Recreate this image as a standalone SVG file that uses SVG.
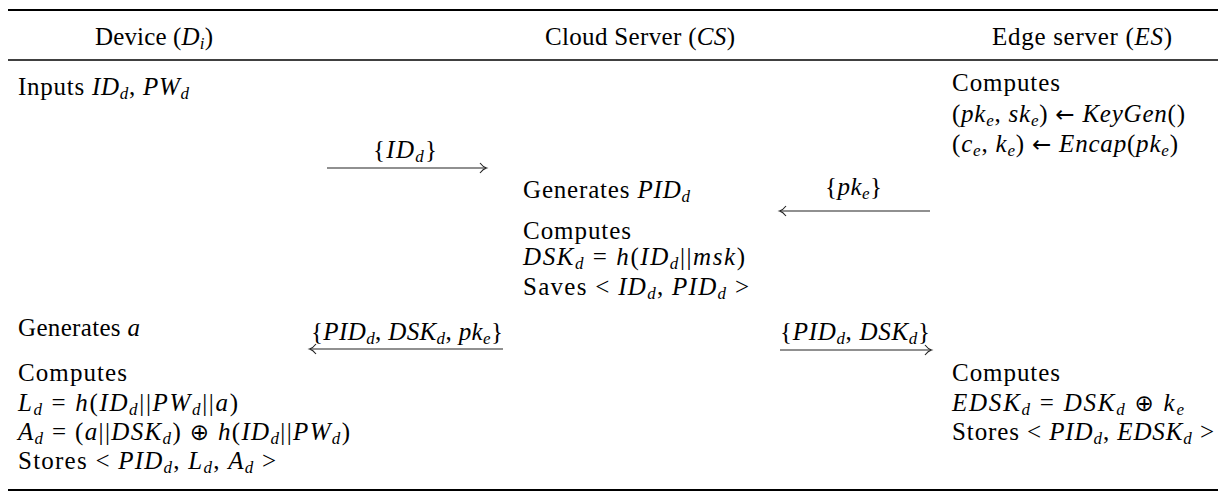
<svg xmlns="http://www.w3.org/2000/svg" width="1228" height="503" viewBox="0 0 1228 503">
<style>
.t{font-family:"Liberation Serif","Times New Roman",serif;font-size:25px;fill:#000}
.i{font-style:italic}
.s{font-size:17px}
.o{font-family:"DejaVu Sans",sans-serif;font-size:23px;font-style:normal}
.arr{stroke:#222;stroke-width:1.1;fill:none}
</style>
<rect width="1228" height="503" fill="#fff"/>
<g id="rules">
<line x1="8" y1="10" x2="1218" y2="10" stroke="#000" stroke-width="2"/>
<line x1="8" y1="60" x2="1218" y2="60" stroke="#000" stroke-width="1.3"/>
<line x1="8" y1="490" x2="1218" y2="490" stroke="#000" stroke-width="2"/>
</g>
<g id="headers">
<text class="t" x="95" y="45" textLength="118" lengthAdjust="spacing">Device (<tspan class="i">D</tspan><tspan class="i s" dy="4">i</tspan><tspan dy="-4">)</tspan></text>
<text class="t" x="545" y="45" textLength="190" lengthAdjust="spacing">Cloud Server (<tspan class="i">CS</tspan>)</text>
<text class="t" x="992" y="45" textLength="180" lengthAdjust="spacing">Edge server (<tspan class="i">ES</tspan>)</text>
</g>
<g id="device">
<text class="t" x="18" y="95" textLength="171" lengthAdjust="spacing">Inputs <tspan class="i">ID</tspan><tspan class="i s" dy="4">d</tspan><tspan dy="-4">, </tspan><tspan class="i">PW</tspan><tspan class="i s" dy="4">d</tspan></text>
<text class="t" x="18" y="336" textLength="122" lengthAdjust="spacing">Generates <tspan class="i">a</tspan></text>
<text class="t" x="18" y="381" textLength="109" lengthAdjust="spacing">Computes</text>
<text class="t" x="18" y="411" textLength="220" lengthAdjust="spacing"><tspan class="i">L</tspan><tspan class="i s" dy="4">d</tspan><tspan dy="-4"> = </tspan><tspan class="i">h</tspan>(<tspan class="i">ID</tspan><tspan class="i s" dy="4">d</tspan><tspan dy="-4">||</tspan><tspan class="i">PW</tspan><tspan class="i s" dy="4">d</tspan><tspan dy="-4">||</tspan><tspan class="i">a</tspan>)</text>
<text class="t" x="18" y="440" textLength="332" lengthAdjust="spacing"><tspan class="i">A</tspan><tspan class="i s" dy="4">d</tspan><tspan dy="-4"> = (</tspan><tspan class="i">a</tspan>||<tspan class="i">DSK</tspan><tspan class="i s" dy="4">d</tspan><tspan dy="-4">) </tspan><tspan class="o">⊕</tspan> <tspan class="i">h</tspan>(<tspan class="i">ID</tspan><tspan class="i s" dy="4">d</tspan><tspan dy="-4">||</tspan><tspan class="i">PW</tspan><tspan class="i s" dy="4">d</tspan><tspan dy="-4">)</tspan></text>
<text class="t" x="18" y="469" textLength="258" lengthAdjust="spacing">Stores &lt; <tspan class="i">PID</tspan><tspan class="i s" dy="4">d</tspan><tspan dy="-4">, </tspan><tspan class="i">L</tspan><tspan class="i s" dy="4">d</tspan><tspan dy="-4">, </tspan><tspan class="i">A</tspan><tspan class="i s" dy="4">d</tspan><tspan dy="-4"> &gt;</tspan></text>
</g>
<g id="cloud-server">
<text class="t" x="523" y="198" textLength="167" lengthAdjust="spacing">Generates <tspan class="i">PID</tspan><tspan class="i s" dy="4">d</tspan></text>
<text class="t" x="523" y="239" textLength="108" lengthAdjust="spacing">Computes</text>
<text class="t" x="523" y="265" textLength="222" lengthAdjust="spacing"><tspan class="i">DSK</tspan><tspan class="i s" dy="4">d</tspan><tspan dy="-4"> = </tspan><tspan class="i">h</tspan>(<tspan class="i">ID</tspan><tspan class="i s" dy="4">d</tspan><tspan dy="-4">||</tspan><tspan class="i">msk</tspan>)</text>
<text class="t" x="523" y="295" textLength="226" lengthAdjust="spacing">Saves &lt; <tspan class="i">ID</tspan><tspan class="i s" dy="4">d</tspan><tspan dy="-4">, </tspan><tspan class="i">PID</tspan><tspan class="i s" dy="4">d</tspan><tspan dy="-4"> &gt;</tspan></text>
</g>
<g id="edge-server">
<text class="t" x="952" y="91" textLength="108" lengthAdjust="spacing">Computes</text>
<text class="t" x="952" y="122" textLength="233" lengthAdjust="spacing">(<tspan class="i">pk</tspan><tspan class="i s" dy="4">e</tspan><tspan dy="-4">, </tspan><tspan class="i">sk</tspan><tspan class="i s" dy="4">e</tspan><tspan dy="-4">) </tspan><tspan class="o">←</tspan> <tspan class="i">KeyGen</tspan>()</text>
<text class="t" x="952" y="152" textLength="226" lengthAdjust="spacing">(<tspan class="i">c</tspan><tspan class="i s" dy="4">e</tspan><tspan dy="-4">, </tspan><tspan class="i">k</tspan><tspan class="i s" dy="4">e</tspan><tspan dy="-4">) </tspan><tspan class="o">←</tspan> <tspan class="i">Encap</tspan>(<tspan class="i">pk</tspan><tspan class="i s" dy="4">e</tspan><tspan dy="-4">)</tspan></text>
<text class="t" x="952" y="381" textLength="108" lengthAdjust="spacing">Computes</text>
<text class="t" x="952" y="411" textLength="232" lengthAdjust="spacing"><tspan class="i">EDSK</tspan><tspan class="i s" dy="4">d</tspan><tspan dy="-4"> = </tspan><tspan class="i">DSK</tspan><tspan class="i s" dy="4">d</tspan><tspan dy="-4"> </tspan><tspan class="o">⊕</tspan> <tspan class="i">k</tspan><tspan class="i s" dy="4">e</tspan></text>
<text class="t" x="952" y="440" textLength="262" lengthAdjust="spacing">Stores &lt; <tspan class="i">PID</tspan><tspan class="i s" dy="4">d</tspan><tspan dy="-4">, </tspan><tspan class="i">EDSK</tspan><tspan class="i s" dy="4">d</tspan><tspan dy="-4"> &gt;</tspan></text>
</g>
<g id="connectors">
<g id="msg1">
<text class="t" x="373" y="158" textLength="64" lengthAdjust="spacing">{<tspan class="i">ID</tspan><tspan class="i s" dy="4">d</tspan><tspan dy="-4">}</tspan></text>
<line class="arr" x1="327" y1="168" x2="486" y2="168"/>
<path class="arr" d="M480,163 Q483,167 486.5,168 Q483,169 480,173"/>
</g>
<g id="msg2">
<text class="t" x="825" y="195" textLength="57" lengthAdjust="spacing">{<tspan class="i">pk</tspan><tspan class="i s" dy="4">e</tspan><tspan dy="-4">}</tspan></text>
<line class="arr" x1="780" y1="211" x2="930" y2="211"/>
<path class="arr" d="M786,206 Q783,210 779.5,211 Q783,212 786,216"/>
</g>
<g id="msg3">
<text class="t" x="311" y="340" textLength="192" lengthAdjust="spacing">{<tspan class="i">PID</tspan><tspan class="i s" dy="4">d</tspan><tspan dy="-4">, </tspan><tspan class="i">DSK</tspan><tspan class="i s" dy="4">d</tspan><tspan dy="-4">, </tspan><tspan class="i">pk</tspan><tspan class="i s" dy="4">e</tspan><tspan dy="-4">}</tspan></text>
<line class="arr" x1="310" y1="349" x2="503" y2="349"/>
<path class="arr" d="M316,344 Q313,348 309.5,349 Q313,350 316,354"/>
</g>
<g id="msg4">
<text class="t" x="780" y="340" textLength="150" lengthAdjust="spacing">{<tspan class="i">PID</tspan><tspan class="i s" dy="4">d</tspan><tspan dy="-4">, </tspan><tspan class="i">DSK</tspan><tspan class="i s" dy="4">d</tspan><tspan dy="-4">}</tspan></text>
<line class="arr" x1="780" y1="350" x2="931" y2="350"/>
<path class="arr" d="M925,345 Q928,349 931.5,350 Q928,351 925,355"/>
</g>
</g>
</svg>
